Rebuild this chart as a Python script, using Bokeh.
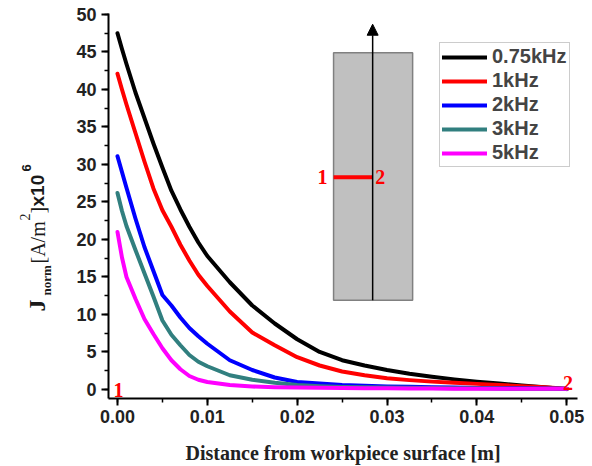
from math import pi
from bokeh.plotting import figure
from bokeh.layouts import row
from bokeh.models import (Label, Legend, LegendItem, SingleIntervalTicker,
                          PrintfTickFormatter, Arrow, NormalHead, Range1d)
from bokeh.embed import file_html
from bokeh.resources import INLINE

# ---------------- data ----------------
x_dist = [0.0, 0.0005, 0.001, 0.002, 0.003, 0.004, 0.005, 0.006, 0.007, 0.008, 0.009,
          0.010, 0.0125, 0.015, 0.0175, 0.020, 0.0225, 0.025, 0.0275, 0.030,
          0.0325, 0.035, 0.0375, 0.040, 0.0425, 0.045, 0.0475, 0.050]
j_075 = [47.5, 45.4, 43.4, 39.6, 36.2, 32.8, 29.6, 26.5, 24.0, 21.7, 19.6,
         17.8, 14.3, 11.2, 8.8, 6.7, 5.0, 3.9, 3.2, 2.6,
         2.1, 1.7, 1.35, 1.05, 0.8, 0.55, 0.3, 0.05]
j_1 = [42.1, 40.0, 38.0, 34.2, 30.4, 26.8, 23.9, 21.7, 19.3, 17.2, 15.3,
       13.8, 10.4, 7.6, 5.9, 4.3, 3.2, 2.4, 1.9, 1.5,
       1.25, 1.05, 0.9, 0.75, 0.6, 0.45, 0.3, 0.1]
j_2 = [31.1, 29.0, 26.9, 22.8, 19.0, 15.8, 12.6, 11.2, 9.6, 8.2, 7.1,
       6.1, 3.9, 2.6, 1.6, 1.0, 0.8, 0.6, 0.5, 0.4,
       0.35, 0.3, 0.25, 0.2, 0.18, 0.15, 0.12, 0.1]
j_3 = [26.2, 23.8, 21.8, 18.6, 15.5, 12.4, 9.2, 7.3, 5.9, 4.6, 3.7,
       3.1, 1.9, 1.3, 0.9, 0.6, 0.45, 0.35, 0.3, 0.25,
       0.22, 0.2, 0.18, 0.15, 0.12, 0.1, 0.1, 0.1]
j_5 = [21.0, 17.6, 15.0, 12.1, 9.4, 7.4, 5.5, 3.9, 2.7, 1.8, 1.3,
       1.0, 0.6, 0.4, 0.3, 0.25, 0.22, 0.2, 0.18, 0.15,
       0.13, 0.12, 0.1, 0.1, 0.1, 0.1, 0.1, 0.1]

series_labels = ["0.75kHz", "1kHz", "2kHz", "3kHz", "5kHz"]
series_values = [j_075, j_1, j_2, j_3, j_5]
series_colors = ["#000000", "#ff0000", "#0000ff", "#317f7f", "#ff00ff"]

# inset schematic (workpiece sketch) in data coordinates
inset_left, inset_right = 0.02405, 0.03285
inset_bottom, inset_top = 11.9, 44.9
arrow_x, arrow_top = 0.0284, 48.7
cut_y = 28.3

SANS = "Liberation Sans"
SERIF = "Liberation Serif"
W, H = 592, 466
TW = 55            # width of the y-title strip
B_TOP, B_BOT = 13, 68

# ---------------- y-title strip ----------------
t = figure(width=TW, height=H, output_backend="svg", toolbar_location=None,
           x_range=Range1d(0, TW), y_range=Range1d(B_BOT, H - B_TOP),
           x_axis_type=None, y_axis_type=None,
           min_border_left=0, min_border_right=0, min_border_top=B_TOP,
           min_border_bottom=B_BOT)
t.outline_line_color = None
t.xgrid.visible = False
t.ygrid.visible = False

def ylab(text, px, py, font, style, size):
    t.add_layout(Label(x=px, y=H - py, angle=pi / 2,
                       text=text, text_font=font, text_font_style=style,
                       text_font_size=size, text_color="#1a1a1a",
                       text_baseline="alphabetic", text_align="left"))

ylab("J", 36, 311, SERIF, "bold", "24px")
ylab("norm", 46, 295, SERIF, "bold", "13px")
ylab("[A/m", 37, 263, SERIF, "normal", "20px")
ylab("2", 24, 220, SERIF, "normal", "14px")
ylab("]", 37, 213, SERIF, "normal", "20px")
ylab("x10", 37, 206, SANS, "bold", "19px")
ylab("6", 26, 171, SANS, "bold", "13px")

# ---------------- main plot ----------------
p = figure(width=W - TW, height=H, output_backend="svg", toolbar_location=None,
           x_range=Range1d(-0.001, 0.0512), y_range=Range1d(-1.2, 50.13),
           min_border_left=108 - TW, min_border_right=15, min_border_top=B_TOP,
           min_border_bottom=B_BOT)
p.outline_line_color = None
p.xgrid.visible = False
p.ygrid.visible = False

# inset
p.quad(left=[inset_left], right=[inset_right], bottom=[inset_bottom], top=[inset_top],
       fill_color="#c0c0c0", line_color="#808080", line_width=1.5)
p.line(x=[inset_left, arrow_x], y=[cut_y, cut_y], color="#ff0000", line_width=4)
p.add_layout(Arrow(end=NormalHead(size=11, fill_color="black", line_color="black"),
                   x_start=arrow_x, y_start=inset_bottom, x_end=arrow_x, y_end=arrow_top,
                   line_width=1.5, line_color="black"))

renderers = []
for vals, col in zip(series_values, series_colors):
    r = p.line(x=x_dist, y=vals, color=col, line_width=4, line_cap="round", line_join="round")
    renderers.append(r)

legend = Legend(items=[LegendItem(label=l, renderers=[r]) for l, r in zip(series_labels, renderers)],
                location=(331, 231))
legend.label_text_font = SANS
legend.label_text_font_style = "bold"
legend.label_text_font_size = "20px"
legend.glyph_width = 45
legend.glyph_height = 20
legend.label_height = 20
legend.spacing = 1
legend.padding = 2
legend.margin = 0
legend.label_standoff = 5
legend.border_line_color = "#999999"
legend.border_line_width = 1
p.add_layout(legend)

# axes
p.xaxis.ticker = SingleIntervalTicker(interval=0.01, num_minor_ticks=2)
p.yaxis.ticker = SingleIntervalTicker(interval=5, num_minor_ticks=2)
p.xaxis.formatter = PrintfTickFormatter(format="%.2f")
p.yaxis.formatter = PrintfTickFormatter(format="%d")
for ax in (p.xaxis, p.yaxis):
    ax.axis_line_width = 2
    ax.axis_line_color = "black"
    ax.major_tick_line_width = 2
    ax.minor_tick_line_width = 1.5
    ax.major_tick_in = 0
    ax.major_tick_out = 7
    ax.minor_tick_in = 0
    ax.minor_tick_out = 4
    ax.major_label_text_font = SANS
    ax.major_label_text_font_style = "bold"
    ax.major_label_text_font_size = "18px"
    ax.major_label_text_color = "#222222"
    ax.major_label_standoff = 4
p.yaxis.major_label_standoff = 5
p.xaxis.axis_label = "Distance from workpiece surface [m]"
p.xaxis.axis_label_text_font = SERIF
p.xaxis.axis_label_text_font_style = "bold"
p.xaxis.axis_label_text_font_size = "20px"
p.xaxis.axis_label_text_color = "#222222"
p.xaxis.axis_label_standoff = 16

# point markers 1 and 2
for txt, xx, yy in [("1", -0.00045, -0.1), ("2", 0.0496, 0.93),
                    ("1", 0.02226, cut_y), ("2", 0.0287, cut_y)]:
    p.add_layout(Label(x=xx, y=yy, text=txt, text_font=SERIF, text_font_style="bold",
                       text_font_size="20px", text_color="#ff0000",
                       text_baseline="alphabetic", text_align="left"))

layout = row(t, p, spacing=0)
open("out.html", "w").write(file_html(layout, INLINE))
